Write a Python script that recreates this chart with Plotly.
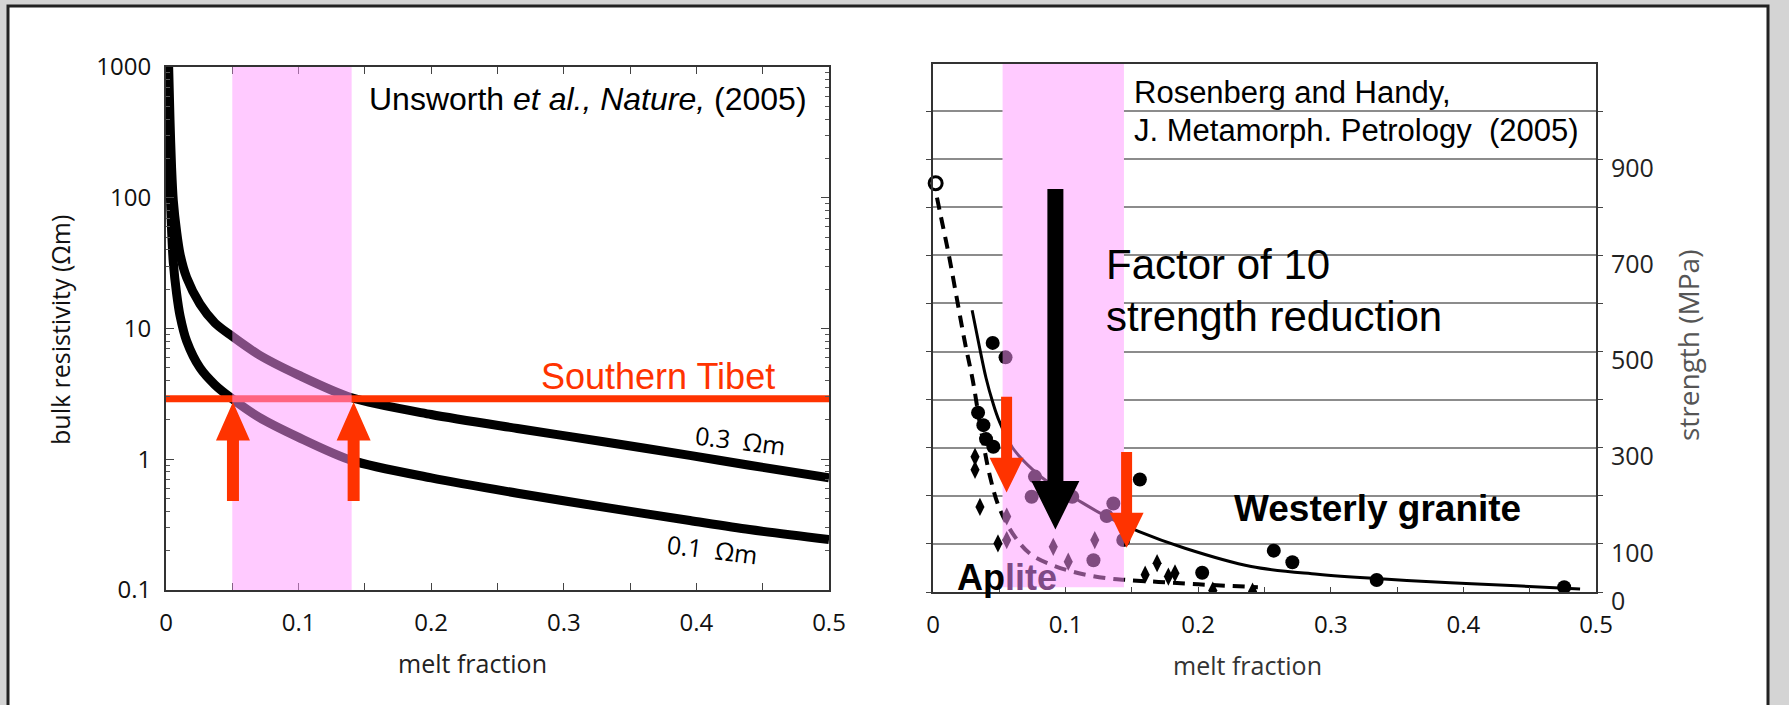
import plotly.graph_objects as go

# ---------------- left panel: bulk resistivity vs melt fraction ----------------
melt_03 = [0.002, 0.003, 0.0042, 0.0055, 0.008, 0.0106, 0.0156, 0.0256, 0.037, 0.048, 0.07, 0.1,
           0.14, 0.2, 0.265, 0.33, 0.395, 0.44, 0.5]
rho_03 = [1000, 400, 170, 95, 55, 37, 24.5, 15.4, 11, 9.0, 6.3, 4.4, 2.95, 2.2, 1.72, 1.36, 1.07, 0.9, 0.72]
melt_01 = [0.002, 0.003, 0.0042, 0.0055, 0.008, 0.0106, 0.0156, 0.0256, 0.037, 0.048, 0.07, 0.1,
           0.14, 0.2, 0.265, 0.33, 0.395, 0.44, 0.5]
rho_01 = [300, 130, 57, 32, 18.5, 12.5, 8.0, 5.0, 3.7, 3.0, 2.1, 1.47, 0.98, 0.72, 0.55, 0.43, 0.34,
          0.29, 0.243]
tibet_rho = 2.9
band_left = [0.05, 0.14]
left_xticks = [0, 0.1, 0.2, 0.3, 0.4, 0.5]
left_yticks = [0.1, 1, 10, 100, 1000]
left_ytext = ["0.1", "1", "10", "100", "1000"]

# ---------------- right panel: strength vs melt fraction ----------------
granite_x = [0.034, 0.038, 0.040, 0.0455, 0.045, 0.0547, 0.0769, 0.0744, 0.105, 0.131, 0.136,
             0.1435, 0.121, 0.156, 0.203, 0.257, 0.271, 0.3346, 0.476]
granite_y = [373, 347, 318, 302, 518, 488, 240, 198, 198, 158, 184, 108, 66, 234, 40, 86, 62, 25, 10]
aplite_x = [0.0317, 0.0317, 0.0354, 0.049, 0.0556, 0.0556, 0.0907, 0.102, 0.122,
            0.160, 0.169, 0.1775, 0.1825, 0.211, 0.241]
aplite_y = [281, 254, 177, 101, 157, 108, 94, 63, 108, 36, 60, 32, 39, 3, 1]
aplite_start_x = [0.002]
aplite_start_y = [850]
granite_fit_x = [0.0295, 0.035, 0.040, 0.045, 0.05, 0.06, 0.075, 0.09, 0.105, 0.13, 0.155,
                 0.19, 0.24, 0.29, 0.34, 0.39, 0.44, 0.488]
granite_fit_y = [586, 510, 445, 395, 355, 300, 255, 222, 198, 158, 126, 91, 53, 37, 27, 19, 13, 6]
aplite_fit_x = [0.003, 0.006, 0.012, 0.018, 0.024, 0.030, 0.036, 0.043, 0.05, 0.06, 0.073,
                0.09, 0.11, 0.13, 0.146, 0.17, 0.2, 0.245]
aplite_fit_y = [820, 780, 700, 610, 520, 440, 340, 240, 175, 122, 80, 56, 39, 29, 25, 21, 16, 10]
band_right = [0.0525, 0.144]
band_right_floor = 10
right_xticks = [0, 0.1, 0.2, 0.3, 0.4, 0.5]
right_yticks = [0, 100, 200, 300, 400, 500, 600, 700, 800, 900, 1000]
right_ytext = ["0", "100", "", "300", "", "500", "", "700", "", "900", ""]
strength_top = 1098

# ---------------- page geometry (pixels) ----------------
W, H = 1789, 705
def px_x(p):
    return p / W
def px_y(p):
    return 1 - p / H

RED = "#ff3300"
PINK_BAND = "rgba(255,150,255,0.5)"
PURPLE_TEXT = "#7e4a86"
SANS = "Liberation Sans, Arial, sans-serif"
MYRIAD = "Open Sans, Lato, sans-serif"

fig = go.Figure()

# resistivity curves
for mx, ry in [(melt_03, rho_03), (melt_01, rho_01)]:
    fig.add_trace(go.Scatter(x=mx, y=ry, mode="lines",
                             line=dict(color="black", width=9, shape="spline", smoothing=0.8),
                             xaxis="x", yaxis="y", hoverinfo="skip"))
fig.add_trace(go.Scatter(x=[0, 0.5], y=[tibet_rho, tibet_rho], mode="lines", line=dict(color=RED, width=7),
                         xaxis="x", yaxis="y", hoverinfo="skip"))

# strength fits and data
fig.add_trace(go.Scatter(x=granite_fit_x, y=granite_fit_y, mode="lines",
                         line=dict(color="black", width=3, shape="spline"), xaxis="x2", yaxis="y2"))
fig.add_trace(go.Scatter(x=aplite_fit_x, y=aplite_fit_y, mode="lines",
                         line=dict(color="black", width=4, dash="12px,8px", shape="spline"),
                         xaxis="x2", yaxis="y2"))
fig.add_trace(go.Scatter(x=granite_x, y=granite_y, mode="markers",
                         marker=dict(symbol="circle", size=14, color="black"), xaxis="x2", yaxis="y2"))
fig.add_trace(go.Scatter(x=aplite_x, y=aplite_y, mode="markers",
                         marker=dict(symbol="diamond-tall", size=13, color="black"), xaxis="x2", yaxis="y2"))
fig.add_trace(go.Scatter(x=aplite_start_x, y=aplite_start_y, mode="markers",
                         marker=dict(symbol="circle", size=13, color="white", line=dict(color="black", width=3)),
                         xaxis="x2", yaxis="y2", cliponaxis=False))


def arrow(xref, yref, x, tail, base, tip, shaft, head, color):
    s, h = shaft / 2, head / 2
    path = (f"M{-s},{tail} L{s},{tail} L{s},{base} L{h},{base} L0,{tip} "
            f"L{-h},{base} L{-s},{base} Z")
    return dict(type="path", xref=xref, yref=yref, xsizemode="pixel", xanchor=x, path=path,
                fillcolor=color, line=dict(width=0), layer="above")


shapes = [
    # white slide panel
    dict(type="rect", xref="paper", yref="paper", x0=px_x(8), x1=px_x(1768), y0=px_y(720), y1=px_y(6),
         fillcolor="white", line=dict(color="#222", width=3), layer="below"),
    # left melt band
    dict(type="rect", xref="x", yref="y domain", x0=band_left[0], x1=band_left[1], y0=0, y1=1,
         fillcolor=PINK_BAND, line=dict(width=0), layer="above"),
    # right melt band: opaque underlay hides grid, translucent layer tints marks
    dict(type="rect", xref="x2", yref="y2", x0=band_right[0], x1=band_right[1], y0=band_right_floor,
         y1=strength_top, fillcolor="white", line=dict(width=0), layer="between"),
    dict(type="rect", xref="x2", yref="y2", x0=band_right[0], x1=band_right[1], y0=band_right_floor,
         y1=strength_top, fillcolor=PINK_BAND, line=dict(width=0), layer="above"),
]
# arrows marking where the resistivity curves meet the Southern Tibet value
for xe in [0.0505, 0.1415]:
    shapes.append(arrow("x", "y", xe, 0.48, 1.39, 2.74, 12, 34, RED))
# strength reduction arrows
shapes.append(arrow("x2", "y2", 0.0923, 838, 231, 130, 16, 48, "black"))
shapes.append(arrow("x2", "y2", 0.0555, 406, 279, 207, 11, 34, RED))
shapes.append(arrow("x2", "y2", 0.146, 291, 165, 92, 11, 34, RED))

annotations = [
    dict(xref="x", yref="y domain", x=0.485, y=0.939, xanchor="right", yanchor="middle",
         text="Unsworth <i>et al., Nature,</i> (2005)", font=dict(family=SANS, size=32, color="black")),
    dict(xref="x", yref="y domain", x=0.3707, y=0.409, xanchor="center", yanchor="middle",
         text="Southern Tibet", font=dict(family=SANS, size=36, color=RED)),
    dict(xref="x", yref="y domain", x=0.433, y=0.286, xanchor="center", yanchor="middle", textangle=7,
         text="0.3\u00a0\u00a0\u03a9m", font=dict(family=MYRIAD, size=25, color="black")),
    dict(xref="x", yref="y domain", x=0.412, y=0.0784, xanchor="center", yanchor="middle", textangle=7,
         text="0.1\u00a0\u00a0\u03a9m", font=dict(family=MYRIAD, size=25, color="black")),
    dict(xref="x2", yref="y2", x=0.1504, y=1039.5, xanchor="left", yanchor="middle",
         text="Rosenberg and Handy,", font=dict(family=SANS, size=31, color="black")),
    dict(xref="x2", yref="y2", x=0.1504, y=960.5, xanchor="left", yanchor="middle",
         text="J. Metamorph. Petrology\u00a0\u00a0(2005)", font=dict(family=SANS, size=31, color="black")),
    dict(xref="x2", yref="y2", x=0.129, y=682, xanchor="left", yanchor="middle",
         text="Factor of 10", font=dict(family=SANS, size=42, color="black")),
    dict(xref="x2", yref="y2", x=0.129, y=572, xanchor="left", yanchor="middle",
         text="strength reduction", font=dict(family=SANS, size=42, color="black")),
    dict(xref="x2", yref="y2", x=0.2253, y=174.6, xanchor="left", yanchor="middle",
         text="<b>Westerly granite</b>", font=dict(family=SANS, size=37, color="black")),
    dict(xref="x2", yref="y2", x=0.0166, y=31, xanchor="left", yanchor="middle",
         text=f"<b>Ap<span style='color:{PURPLE_TEXT}'>lite</span></b>",
         font=dict(family=SANS, size=36, color="black")),
    # axis titles
    dict(xref="paper", yref="paper", x=px_x(60), y=px_y(330), xanchor="center", yanchor="middle",
         textangle=-90, text="bulk resistivity (\u03a9m)", font=dict(family=MYRIAD, size=25, color="#111")),
    dict(xref="paper", yref="paper", x=px_x(472.5), y=px_y(663), xanchor="center", yanchor="middle",
         text="melt fraction", font=dict(family=MYRIAD, size=25, color="#222")),
    dict(xref="paper", yref="paper", x=px_x(1247.6), y=px_y(664.6), xanchor="center", yanchor="middle",
         text="melt fraction", font=dict(family=MYRIAD, size=25, color="#333")),
    dict(xref="paper", yref="paper", x=px_x(1688), y=px_y(346), xanchor="center", yanchor="middle",
         textangle=-90, text="strength (MPa)", font=dict(family=MYRIAD, size=28, color="#555")),
]
for a in annotations:
    a.setdefault("showarrow", False)

tickfont = dict(family=MYRIAD, size=24, color="#111")
fig.update_layout(
    width=W, height=H, margin=dict(l=0, r=0, t=0, b=0, pad=0, autoexpand=False),
    paper_bgcolor="#d4d4d4", plot_bgcolor="white", showlegend=False,
    shapes=shapes, annotations=annotations,
    xaxis=dict(domain=[px_x(166), px_x(829)], anchor="y", range=[0, 0.5], tickmode="array",
               tickvals=left_xticks, ticks="inside", ticklen=7, tickcolor="#444",
               minor=dict(dtick=0.05, ticks="inside", ticklen=7, tickcolor="#444", showgrid=False),
               showline=True, linecolor="#333", linewidth=2, mirror="ticks", showgrid=False,
               zeroline=False, tickfont=tickfont, ticklabelstandoff=10, automargin=False),
    yaxis=dict(domain=[px_y(590), px_y(67)], anchor="x", type="log", range=[-1, 3], tickmode="array",
               tickvals=left_yticks, ticktext=left_ytext, ticks="inside", ticklen=8, tickcolor="#444",
               minor=dict(dtick="D1", ticks="inside", ticklen=4, tickcolor="#555", showgrid=False),
               showline=True, linecolor="#333", linewidth=2, mirror="ticks", showgrid=False,
               zeroline=False, tickfont=tickfont, ticklabelstandoff=8, automargin=False),
    xaxis2=dict(domain=[px_x(933), px_x(1596)], anchor="y2", range=[0, 0.5], tickmode="array",
                tickvals=right_xticks, ticks="inside", ticklen=5, tickcolor="#444",
                minor=dict(dtick=0.05, ticks="inside", ticklen=5, tickcolor="#444", showgrid=False),
                showline=True, linecolor="#333", linewidth=2, mirror=True, showgrid=False,
                zeroline=False, tickfont=tickfont, ticklabelstandoff=10, automargin=False),
    yaxis2=dict(domain=[px_y(592), px_y(64)], anchor="x2", side="right", range=[0, strength_top],
                tickmode="array", tickvals=right_yticks, ticktext=right_ytext, ticks="outside",
                ticklen=5, tickcolor="#444", showgrid=True, gridcolor="#8c8c8c", gridwidth=2,
                showline=True, linecolor="#333", linewidth=2, mirror="ticks", zeroline=False,
                tickfont=dict(family=MYRIAD, size=25, color="#222"), ticklabelshift=9,
                ticklabelstandoff=3, automargin=False),
)

fig.write_html("out.html")
